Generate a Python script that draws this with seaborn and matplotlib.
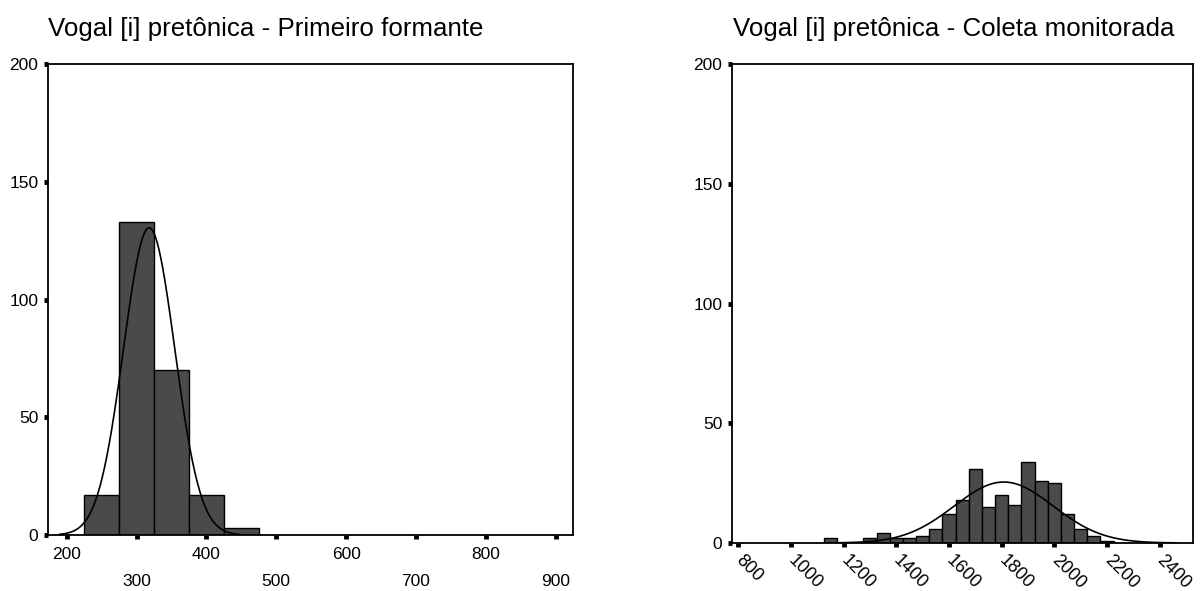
import numpy as np
import pandas as pd
import matplotlib
matplotlib.use("Agg")
import matplotlib.pyplot as plt
import seaborn as sns

# ---------------- data ----------------
left_title = "Vogal [i] pretônica - Primeiro formante"
right_title = "Vogal [i] pretônica - Coleta monitorada"

left_edges = [225, 275, 325, 375, 425, 475]
left_counts = [17, 133, 70, 17, 3]
left_mean = 318.0
left_sd = 36.7

right_edges = [1125, 1175, 1225, 1275, 1325, 1375, 1425, 1475, 1525, 1575, 1625,
               1675, 1725, 1775, 1825, 1875, 1925, 1975, 2025, 2075, 2125, 2175, 2225]
right_counts = [2, 0, 0, 2, 4, 2, 2, 3, 6, 12, 18, 31, 15, 20, 16, 34, 26, 25, 12, 6, 3, 1]
right_mean = 1808.0
right_sd = 188.0

left_xticks_major = [200, 400, 600, 800]
left_xticks_minor = [300, 500, 700, 900]
right_xticks = [800, 1000, 1200, 1400, 1600, 1800, 2000, 2200, 2400]
yticks = [0, 50, 100, 150, 200]

# ---------------- style ----------------
sns.set_style("white")
plt.rcParams['font.family'] = ['Liberation Sans', 'DejaVu Sans']

W, H = 1201, 591
fig = plt.figure(figsize=(W / 100, H / 100), dpi=100)
ax1 = fig.add_axes([48 / W, 1 - 535 / H, (573.3 - 48) / W, (535 - 64) / H])
ax2 = fig.add_axes([732 / W, 1 - 543 / H, (1192.5 - 732) / W, (543 - 64) / H])

BAR = "#4a4a4a"


def draw(ax, edges, counts, mean, sd):
    e = np.asarray(edges, float)
    centers = (e[:-1] + e[1:]) / 2
    df = pd.DataFrame({"value": centers, "count": np.asarray(counts, float)})
    sns.histplot(data=df, x="value", weights="count", bins=[float(v) for v in edges],
                 ax=ax, color=BAR, edgecolor="black", linewidth=1.0, alpha=1.0)
    bw = e[1] - e[0]
    n = float(np.sum(counts))
    xs = np.linspace(mean - 3.5 * sd, mean + 3.5 * sd, 300)
    ys = n * bw / (sd * np.sqrt(2 * np.pi)) * np.exp(-0.5 * ((xs - mean) / sd) ** 2)
    sns.lineplot(x=xs, y=ys, ax=ax, color="black", linewidth=1.2)
    ax.set_ylim(0, 200)
    ax.set_yticks(yticks)
    ax.set_xlabel("")
    ax.set_ylabel("")
    for s in ax.spines.values():
        s.set_visible(True)
        s.set_color("black")
        s.set_linewidth(1.3)
    ax.tick_params(axis="both", which="both", direction="out", length=3, width=3.5,
                   color="black", labelsize=12.5, labelcolor="black",
                   bottom=True, left=True, top=False, right=False)
    ax.tick_params(axis="y", pad=4)


draw(ax1, left_edges, left_counts, left_mean, left_sd)
draw(ax2, right_edges, right_counts, right_mean, right_sd)

ax1.set_xlim(173.2, 925.2)
ax1.set_xticks(left_xticks_major)
ax1.set_xticks(left_xticks_minor, minor=True)
ax1.set_xticklabels([str(v) for v in left_xticks_major])
ax1.set_xticklabels([str(v) for v in left_xticks_minor], minor=True)
ax1.tick_params(axis="x", which="major", pad=5.5)
ax1.tick_params(axis="x", which="minor", pad=25)

ax2.set_xlim(776, 2525)
ax2.set_xticks(right_xticks)
ax2.set_xticklabels([str(v) for v in right_xticks], rotation=-45,
                    ha="left", va="center", rotation_mode="anchor", fontsize=13)
ax2.tick_params(axis="x", pad=7.5)

fig.text(48 / W, 1 - 36 / H, left_title, ha="left", va="baseline",
         fontsize=18.6, color="black")
fig.text(733 / W, 1 - 36 / H, right_title, ha="left", va="baseline",
         fontsize=18.6, color="black")

fig.savefig("out.png", dpi=100, facecolor="white")
